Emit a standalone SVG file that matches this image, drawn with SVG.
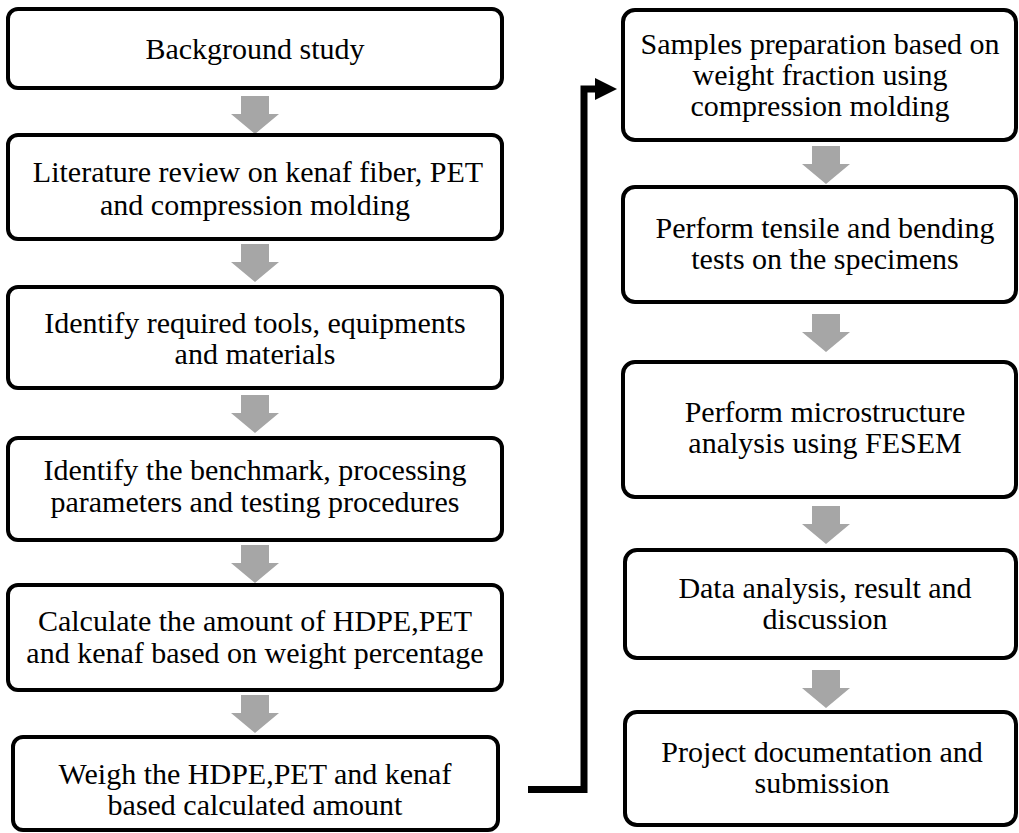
<svg xmlns="http://www.w3.org/2000/svg" width="1019" height="833" viewBox="0 0 1019 833">
<style>
.box{fill:#fff;stroke:#000;stroke-width:4}
.t{font-family:'Liberation Serif','Times New Roman',serif;font-size:30px;fill:#000;text-anchor:middle}
.ga{fill:#a6a6a6}
.conn{fill:none;stroke:#000;stroke-width:7;stroke-linejoin:miter}
</style>
<defs>
<path id="garrow" d="M-14,0 H14 V18 H24 L0,38 L-24,18 H-14 Z"/>
</defs>
<rect width="1019" height="833" fill="#fff"/>
<g id="connectors">
<use href="#garrow" class="ga" x="255" y="96"/>
<use href="#garrow" class="ga" x="255" y="244"/>
<use href="#garrow" class="ga" x="255" y="395"/>
<use href="#garrow" class="ga" x="255" y="545"/>
<use href="#garrow" class="ga" x="255" y="695"/>
<use href="#garrow" class="ga" x="826" y="146"/>
<use href="#garrow" class="ga" x="826" y="314"/>
<use href="#garrow" class="ga" x="826" y="506"/>
<use href="#garrow" class="ga" x="826" y="670"/>
<polyline class="conn" points="528,789.5 584,789.5 584,89 597,89"/>
<polygon points="595,78 617,89 595,100" fill="#000"/>
</g>
<g id="n1"><rect class="box" x="8" y="9" width="494" height="79" rx="10"/><text class="t" x="255" y="59">Background study</text></g>
<g id="n2"><rect class="box" x="8" y="135" width="494" height="104" rx="10"/><text class="t" x="258" y="182">Literature review on kenaf fiber, PET</text><text class="t" x="255" y="215">and compression molding</text></g>
<g id="n3"><rect class="box" x="8" y="287" width="494" height="101" rx="10"/><text class="t" x="255" y="333">Identify required tools, equipments</text><text class="t" x="255" y="364">and materials</text></g>
<g id="n4"><rect class="box" x="8" y="438" width="494" height="102" rx="10"/><text class="t" x="255" y="480">Identify the benchmark, processing</text><text class="t" x="255" y="512">parameters and testing procedures</text></g>
<g id="n5"><rect class="box" x="8" y="585" width="494" height="105" rx="10"/><text class="t" x="255" y="631">Calculate the amount of HDPE,PET</text><text class="t" x="255" y="663">and kenaf based on weight percentage</text></g>
<g id="n6"><rect class="box" x="13" y="737" width="485" height="93" rx="10"/><text class="t" x="255" y="784">Weigh the HDPE,PET and kenaf</text><text class="t" x="255" y="815">based calculated amount</text></g>
<g id="n7"><rect class="box" x="623" y="10" width="393" height="130" rx="12"/><text class="t" x="820" y="54">Samples preparation based on</text><text class="t" x="820" y="85">weight fraction using</text><text class="t" x="820" y="116">compression molding</text></g>
<g id="n8"><rect class="box" x="623" y="187" width="393" height="115" rx="12"/><text class="t" x="825" y="238">Perform tensile and bending</text><text class="t" x="825" y="269">tests on the specimens</text></g>
<g id="n9"><rect class="box" x="623" y="362" width="393" height="135" rx="12"/><text class="t" x="825" y="422">Perform microstructure</text><text class="t" x="825" y="453">analysis using FESEM</text></g>
<g id="n10"><rect class="box" x="625" y="550" width="391" height="108" rx="12"/><text class="t" x="825" y="598">Data analysis, result and</text><text class="t" x="825" y="629">discussion</text></g>
<g id="n11"><rect class="box" x="625" y="712" width="391" height="113" rx="12"/><text class="t" x="822" y="762">Project documentation and</text><text class="t" x="822" y="793">submission</text></g>
</svg>
